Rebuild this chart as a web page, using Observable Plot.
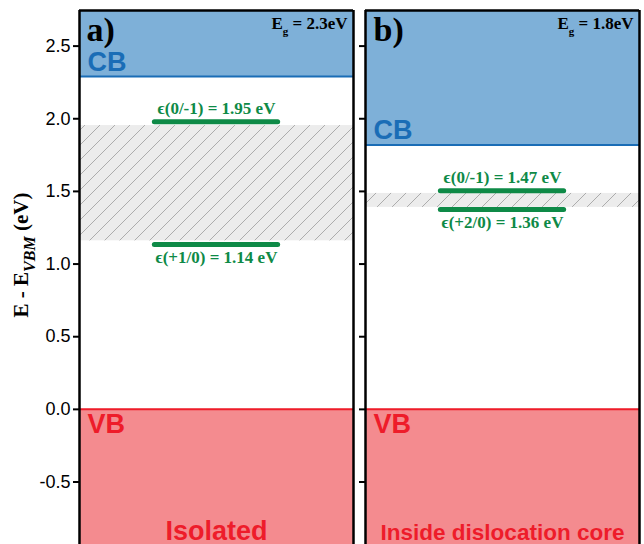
<!DOCTYPE html>
<html><head><meta charset="utf-8">
<script src="https://cdn.jsdelivr.net/npm/d3@7"></script>
<script src="https://cdn.jsdelivr.net/npm/@observablehq/plot@0.6"></script>
<style>
body{margin:0;background:#fff;overflow:hidden;}
#chart{display:flex;width:644px;height:544px;}
</style></head><body><div id="chart"></div>
<script>
// ---- data ----
const panelTags = ["a)", "b)"];
const bandGaps = [2.29, 1.82];
const gapTexts = ["E_{g} = 2.3eV", "E_{g} = 1.8eV"];
const conditionNames = ["Isolated", "Inside dislocation core"];
const hatchBottom = [1.16, 1.39];
const hatchTop = [1.953, 1.486];
const levelPanel = [0, 0, 1, 1];
const levelNames = ["ϵ(0/-1) = 1.95 eV", "ϵ(+1/0) = 1.14 eV", "ϵ(0/-1) = 1.47 eV", "ϵ(+2/0) = 1.36 eV"];
const levelEnergy = [1.98, 1.135, 1.505, 1.375];
const levelSide = ["above", "below", "above", "below"];
const levelSpan = [0.275, 0.725];
const yTicks = [-0.5, 0, 0.5, 1, 1.5, 2, 2.5];
const yDomain = [-0.93, 2.745];

// ---- style ----
const serif = "'Liberation Serif', 'Times New Roman', serif";
const sans = "'Liberation Sans', Arial, sans-serif";
const cbFill = "#7eb0d8", cbLine = "#1a6db6";
const vbFill = "#f48b8f", vbLine = "#ee1c2a";
const green = "#0e8a47";

function subscriptify(svg) {
  d3.select(svg).selectAll("text").each(function () {
    const t = this.textContent;
    if (!/_\{/.test(t)) return;
    const parts = t.split(/_\{([^}]*)\}/);
    this.textContent = "";
    parts.forEach((p, k) => {
      if (!p) return;
      const ts = d3.select(this).append("tspan").text(p);
      if (k % 2 === 1) ts.attr("font-size", 11).attr("dy", 6);
      else if (k > 0) ts.attr("dy", -6);
    });
  });
}

function panel(i) {
  const first = i === 0;
  const levels = levelNames
    .map((name, k) => ({panel: levelPanel[k], name, e: levelEnergy[k], side: levelSide[k]}))
    .filter(d => d.panel === i);
  const mid = (levelSpan[0] + levelSpan[1]) / 2;
  const cb = [{y1: bandGaps[i], y2: yDomain[1]}];
  const vb = [{y1: yDomain[0], y2: 0}];
  const hatch = [{y1: hatchBottom[i], y2: hatchTop[i]}];
  const svg = Plot.plot({
    width: first ? 359 : 285,
    height: 544,
    marginLeft: first ? 79 : 6,
    marginRight: first ? 6 : 5,
    marginTop: 10,
    marginBottom: 0,
    x: {domain: [0, 1], axis: null},
    y: {domain: yDomain, label: null, axis: null},
    style: {background: "white", overflow: "visible"},
    marks: [
      Plot.rect(cb, {x1: () => 0, x2: () => 1, y1: "y1", y2: "y2", fill: cbFill}),
      Plot.rect(vb, {x1: () => 0, x2: () => 1, y1: "y1", y2: "y2", fill: vbFill}),
      Plot.rect(hatch, {x1: () => 0, x2: () => 1, y1: "y1", y2: "y2", fill: "#ececec"}),
      Plot.rect(hatch, {x1: () => 0, x2: () => 1, y1: "y1", y2: "y2", fill: `url(#hatch${i})`}),
      Plot.ruleY([bandGaps[i]], {stroke: cbLine, strokeWidth: 2}),
      Plot.ruleY([0], {stroke: vbLine, strokeWidth: 2}),
      Plot.ruleY(levels, {y: "e", x1: () => levelSpan[0], x2: () => levelSpan[1], stroke: green, strokeWidth: 5, strokeLinecap: "round"}),
      Plot.text(levels.filter(d => d.side === "above"), {x: () => mid, y: "e", text: "name", dy: -13, fill: green, fontFamily: serif, fontWeight: "bold", fontSize: 17}),
      Plot.text(levels.filter(d => d.side === "below"), {x: () => mid, y: "e", text: "name", dy: 13, fill: green, fontFamily: serif, fontWeight: "bold", fontSize: 17}),
      Plot.text([panelTags[i]], {text: d => d, frameAnchor: "top-left", textAnchor: "start", lineAnchor: "top", dx: first ? 7 : 8, dy: 6, fontSize: 34, fontWeight: "bold", fontFamily: serif, fill: "black"}),
      Plot.text([gapTexts[i]], {text: d => d, frameAnchor: "top-right", textAnchor: "end", lineAnchor: "top", dx: -6, dy: 6.5, fontSize: 17, fontWeight: "bold", fontFamily: serif, fill: "black"}),
      Plot.text(["CB"], {text: d => d, x: () => 0, y: () => bandGaps[i], textAnchor: "start", lineAnchor: "bottom", dx: 8, dy: -6, fontSize: 27, fontWeight: "bold", fontFamily: sans, fill: cbLine}),
      Plot.text(["VB"], {text: d => d, x: () => 0, y: () => 0, textAnchor: "start", lineAnchor: "top", dx: 8, dy: 4.5, fontSize: 27, fontWeight: "bold", fontFamily: sans, fill: vbLine}),
      Plot.text([conditionNames[i]], {text: d => d, frameAnchor: "bottom", textAnchor: "middle", lineAnchor: "bottom", dy: -5, fontSize: first ? 27 : 22.5, fontWeight: "bold", fontFamily: sans, fill: vbLine}),
      first
        ? Plot.axisY(yTicks, {tickSize: 6, tickPadding: 3, tickFormat: d => d.toFixed(1), fontSize: 18, fontFamily: sans, stroke: "black", fill: "black", strokeWidth: 2, label: null})
        : Plot.axisY(yTicks, {tickSize: 6, fill: "none", stroke: "black", strokeWidth: 2, label: null}),
      Plot.ruleX([0, 1], {stroke: "black", strokeWidth: 2.5}),
      Plot.ruleY([yDomain[1]], {stroke: "black", strokeWidth: 2.5})
    ]
  });
  const defs = d3.select(svg).insert("defs", ":first-child");
  const pat = defs.append("pattern").attr("id", `hatch${i}`)
    .attr("patternUnits", "userSpaceOnUse").attr("width", 15).attr("height", 15);
  pat.append("path").attr("d", "M-2,2 L2,-2 M0,15 L15,0 M13,17 L17,13")
    .attr("stroke", "#9c9c9c").attr("stroke-width", 0.8).attr("fill", "none");
  subscriptify(svg);
  if (first) {
    const lab = d3.select(svg).append("text")
      .attr("transform", "translate(28,255) rotate(-90)")
      .attr("text-anchor", "middle").attr("font-family", serif)
      .attr("font-weight", "bold").attr("font-size", 21).attr("fill", "black");
    lab.append("tspan").text("E - E");
    lab.append("tspan").attr("font-size", 16).attr("font-style", "italic").attr("dy", 7).text("VBM");
    lab.append("tspan").attr("dy", -7).text(" (eV)");
  }
  return svg;
}

const root = document.getElementById("chart");
root.appendChild(panel(0));
root.appendChild(panel(1));
</script>
</body></html>
